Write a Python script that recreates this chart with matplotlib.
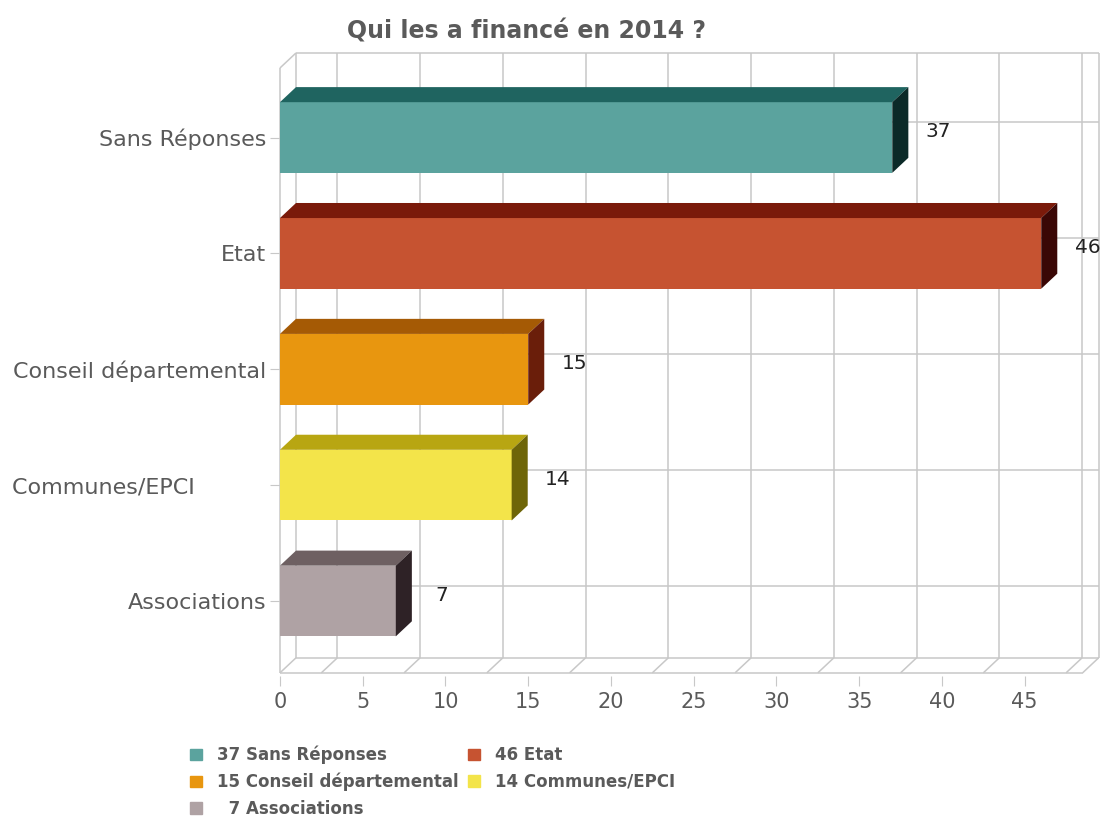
import matplotlib.pyplot as plt
from matplotlib.patches import Polygon, Patch

# data
categories = ["Sans Réponses", "Etat", "Conseil départemental", "Communes/EPCI", "Associations"]
values = [37, 46, 15, 14, 7]
front_colors = ["#5ba39e", "#c65331", "#e8960f", "#f3e44a", "#afa2a4"]
top_colors = ["#1f6460", "#7a1a0a", "#a55a05", "#b8a612", "#6e6062"]
side_colors = ["#0b2a28", "#3a0705", "#6a1e0a", "#6e6508", "#2e2226"]
x_ticks = [0, 5, 10, 15, 20, 25, 30, 35, 40, 45]

# 3d look
dx, dy = 0.97, 0.13
bar_h = 0.61
x_end = 48.5
y_floor, y_top = -0.62, 4.60
grid_c = "#c8c8c8"
text_c = "#5a5a5a"

fig = plt.figure(figsize=(11.07, 8.19), dpi=100)
ax = fig.add_axes([0.2529, 0.1742, 0.7445, 0.764])
ax.set_xlim(0, 49.8)
ax.set_ylim(-0.65, 4.75)
for s in ax.spines.values():
    s.set_visible(False)

ypos = [len(categories) - 1 - i for i in range(len(categories))]

# frame / grid
def line(xs, ys):
    ax.plot(xs, ys, color=grid_c, lw=1.1, zorder=1, clip_on=False,
            solid_capstyle="butt")

grid_x = [0] + [v + 2.5 for v in x_ticks] + [x_end]
for gx in grid_x:
    line([gx + dx, gx + dx], [y_floor + dy, y_top + dy])
    line([gx, gx + dx], [y_floor, y_floor + dy])
for y in ypos:
    line([dx, x_end + dx], [y + dy, y + dy])
line([0, x_end], [y_floor, y_floor])
line([dx, x_end + dx], [y_floor + dy, y_floor + dy])
line([dx, x_end + dx], [y_top + dy, y_top + dy])
line([0, 0], [y_floor, y_top])
line([0, dx], [y_top, y_top + dy])

# bars
for y, v, fc, tc, sc in zip(ypos, values, front_colors, top_colors, side_colors):
    ax.barh(y, v, height=bar_h, color=fc, zorder=3)
    t = y + bar_h / 2
    b = y - bar_h / 2
    ax.add_patch(Polygon([(0, t), (v, t), (v + dx, t + dy), (dx, t + dy)],
                         closed=True, color=tc, zorder=3, lw=0))
    ax.add_patch(Polygon([(v, b), (v, t), (v + dx, t + dy), (v + dx, b + dy)],
                         closed=True, color=sc, zorder=3, lw=0))
    ax.text(v + 2.8, y + 0.05, str(v), ha="center", va="center",
            fontsize=14.5, color="#222222", zorder=4)

# the source pads the "Communes/EPCI" label with trailing blanks
tick_labels = [c + "\u00a0" * 10 if c == "Communes/EPCI" else c for c in categories]

ax.set_xticks(x_ticks)
ax.set_yticks(ypos)
ax.set_yticklabels(tick_labels)
ax.tick_params(axis="x", length=7, color=grid_c, labelsize=15,
               labelcolor=text_c, pad=4)
ax.tick_params(axis="y", length=7, color=grid_c, labelsize=16,
               labelcolor=text_c, pad=3)

fig.text(0.476, 0.962, "Qui les a financé en 2014 ?", ha="center", va="center",
         fontsize=17, fontweight="bold", color=text_c)

# legend
order = [0, 2, 4, 1, 3]
handles = [Patch(color=front_colors[i]) for i in order]
labels = []
for i in order:
    num = str(values[i]) if values[i] >= 10 else "\u2007" + str(values[i])
    labels.append(f"{num} {categories[i]}")
fig.legend(handles, labels, loc="upper left", bbox_to_anchor=(0.158, 0.1075),
           bbox_transform=fig.transFigure, ncol=2, frameon=False,
           handlelength=0.7, handleheight=0.7, handletextpad=0.9,
           columnspacing=0.6, labelspacing=0.5,
           prop={"weight": "bold", "size": 12}, labelcolor=text_c)

fig.savefig("out.png", dpi=100)
